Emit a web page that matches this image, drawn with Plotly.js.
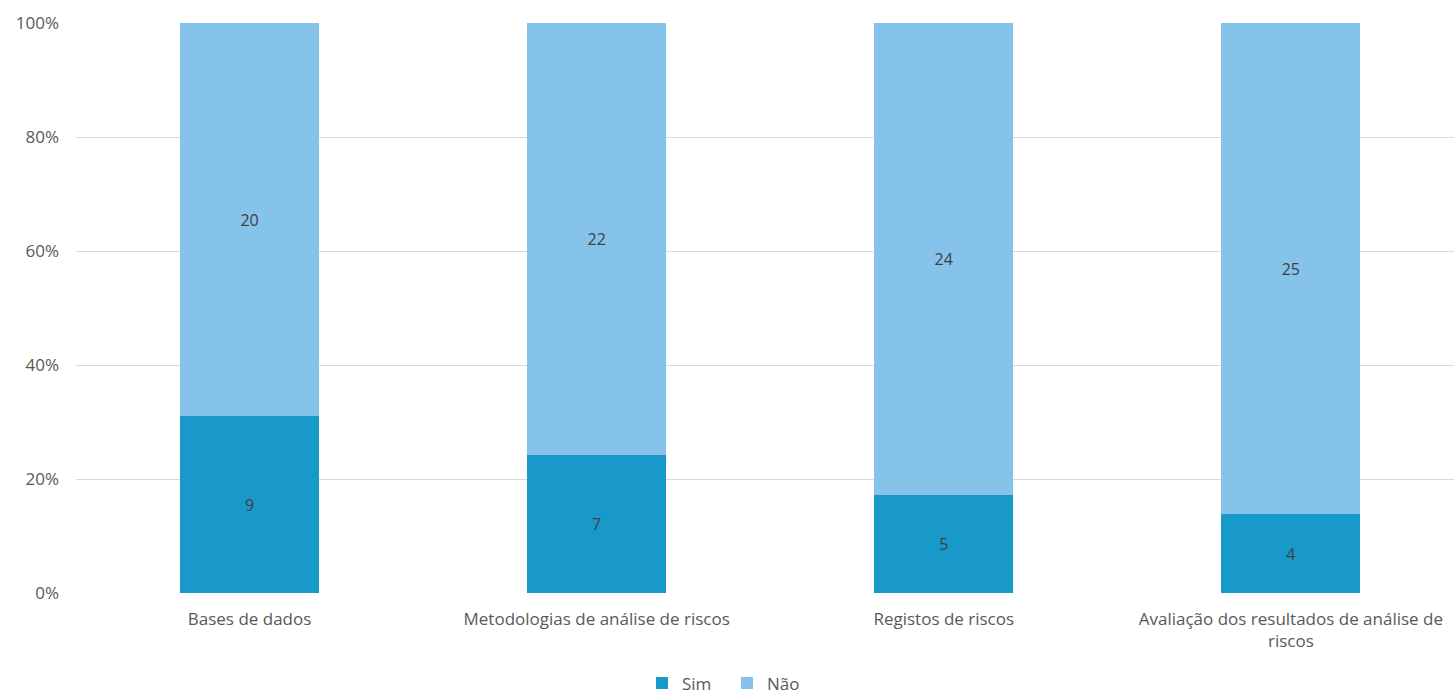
<!DOCTYPE html>
<html>
<head>
<meta charset="utf-8">
<script src="https://cdn.plot.ly/plotly-3.0.1.min.js"></script>
<style>html,body{margin:0;padding:0;background:#fff;}#chart{width:1454px;height:694px;}</style>
</head>
<body>
<div id="chart"></div>
<script>
const categories = ["Bases de dados", "Metodologias de análise de riscos", "Registos de riscos", "Avaliação dos resultados de análise de<br>riscos"];
const simValues = [9, 7, 5, 4];
const naoValues = [20, 22, 24, 25];
const yTickVals = [0, 20, 40, 60, 80, 100];
const yTickText = ["0%", "20%", "40%", "60%", "80%", "100%"];

const font = "Open Sans, Liberation Sans, sans-serif";
const common = {
  type: "bar",
  x: categories,
  textposition: "inside",
  insidetextanchor: "middle",
  constraintext: "none",
  textfont: {family: font, size: 16, color: "#404040"},
  hoverinfo: "skip",
  width: 0.4
};
const traces = [
  Object.assign({}, common, {name: "Sim", y: simValues, text: simValues.map(String), texttemplate: "%{text}", marker: {color: "#1899C9"}}),
  Object.assign({}, common, {name: "Não", y: naoValues, text: naoValues.map(String), texttemplate: "%{text}", marker: {color: "#86C3EA"}})
];
const layout = {
  width: 1454, height: 694,
  margin: {l: 76, r: 0, t: 23, b: 101, autoexpand: false},
  barmode: "stack",
  barnorm: "percent",
  paper_bgcolor: "#fff", plot_bgcolor: "#fff",
  font: {family: font, size: 16, color: "#595959"},
  xaxis: {range: [-0.5, 3.47], automargin: false, showgrid: false, showline: false, zeroline: false, ticks: "", ticklabelstandoff: 14, tickfont: {size: 17, color: "#595959"}, fixedrange: true},
  yaxis: {range: [0, 100], automargin: false, tickvals: yTickVals, ticktext: yTickText, gridcolor: "#D9D9D9", gridwidth: 1, zeroline: false, showline: false, ticks: "", ticklabelstandoff: 16, tickfont: {size: 17, color: "#595959"}, fixedrange: true},
  legend: {orientation: "h", x: 0.5, xanchor: "center", xref: "container", y: -0.127, yanchor: "top", font: {size: 17, color: "#595959"}, itemwidth: 30, entrywidth: 40, traceorder: "normal"},
  showlegend: true
};
Plotly.newPlot("chart", traces, layout, {displayModeBar: false, staticPlot: true});
</script>
</body>
</html>
